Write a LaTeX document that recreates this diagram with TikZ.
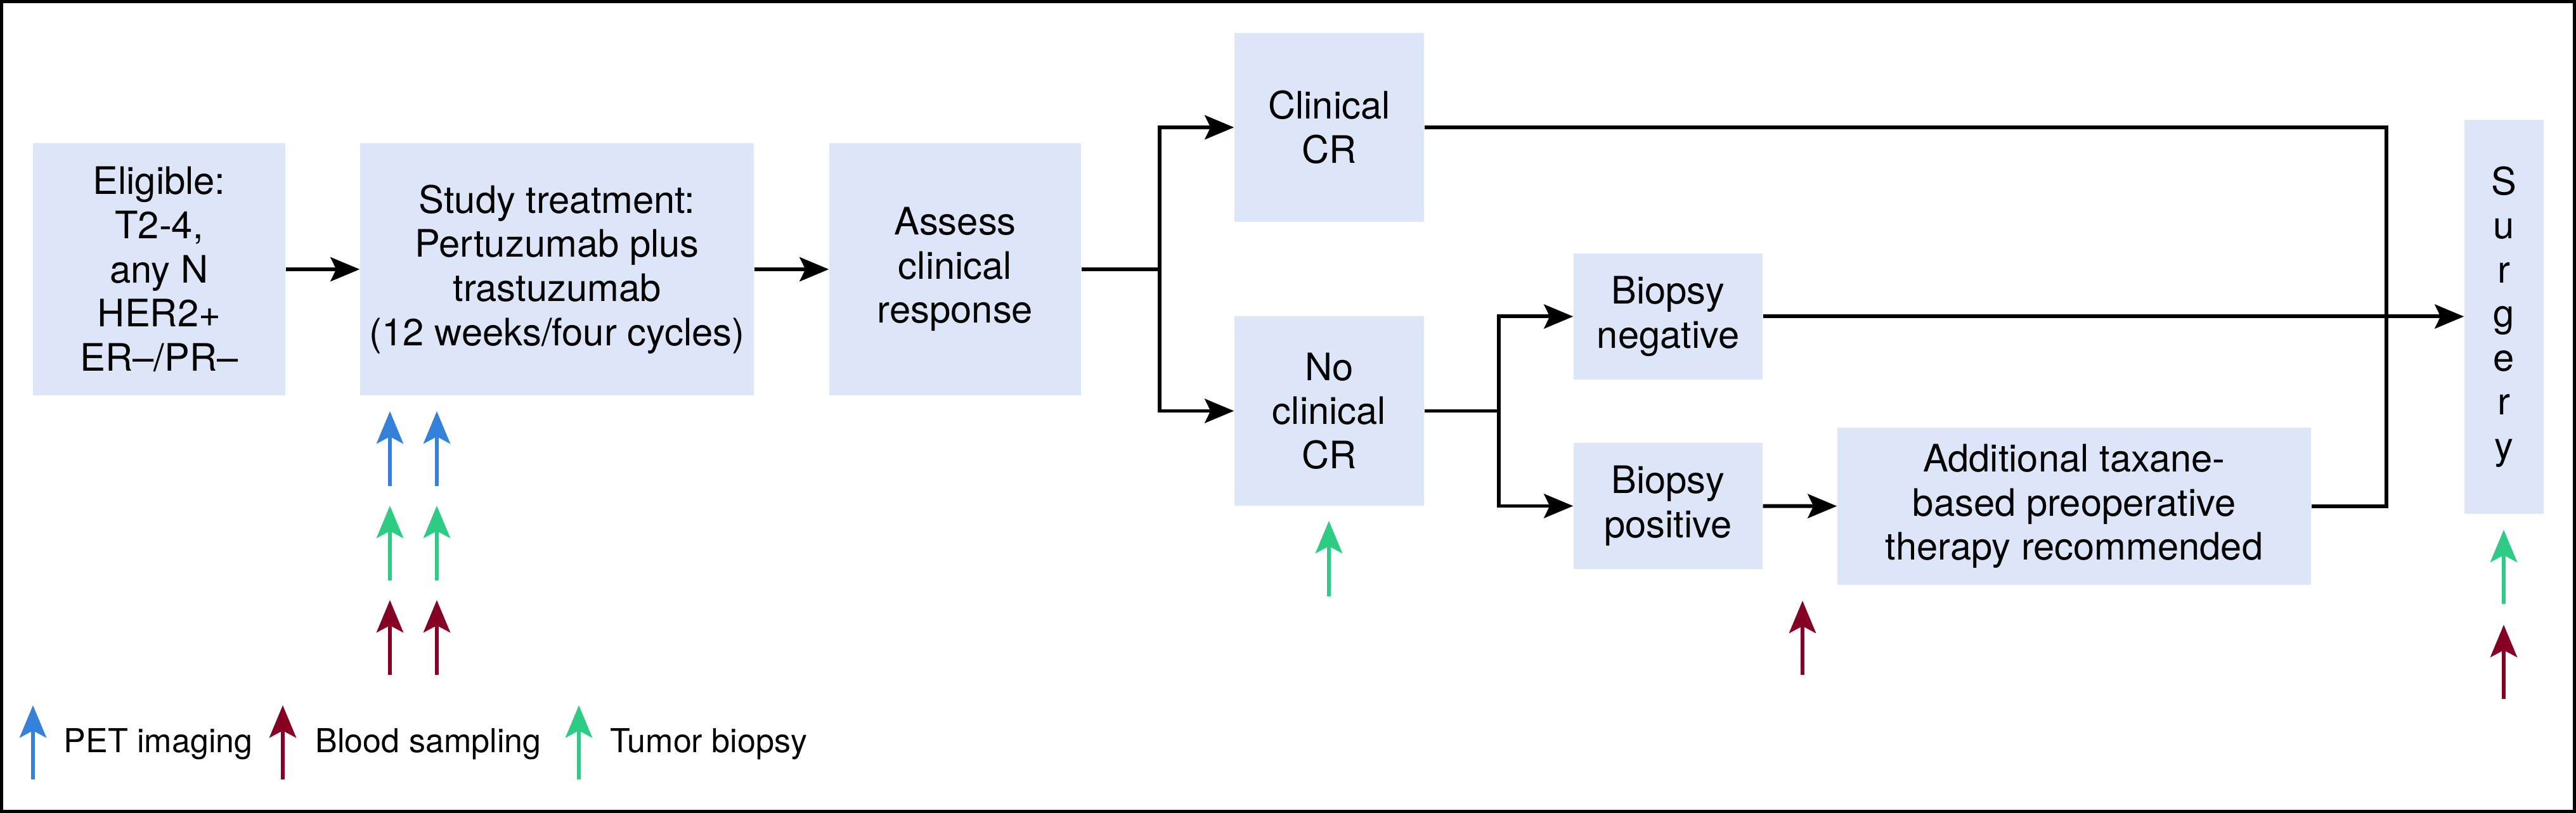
\documentclass[tikz,border=0pt]{standalone}
\usepackage{fontspec}
\setmainfont{TeX Gyre Heros}
\usetikzlibrary{arrows.meta}

\definecolor{boxfill}{HTML}{DCE6F8}
\definecolor{petblue}{HTML}{3580D8}
\definecolor{tumorgreen}{HTML}{2DCB84}
\definecolor{bloodred}{HTML}{850022}

\begin{document}
\begin{tikzpicture}[
  stage/.style={fill=boxfill, align=center, inner sep=0pt, font=\fontsize{17}{19.8}\selectfont},
  link/.style={line width=1.7pt},
  flow/.style={link, -{Stealth[length=0.46cm, width=0.38cm, inset=0.09cm]}},
  marker/.style={line width=1.8pt, -{Stealth[length=0.51cm, width=0.42cm, inset=0.11cm]}},
  legendtext/.style={anchor=base west, inner sep=0pt, font=\fontsize{14.8}{17}\selectfont}
]
  \useasboundingbox (0,0) rectangle (40.63,-12.83);
  \draw [line width=1.5pt] (0.026,-0.026) rectangle (40.604,-12.804);

  \node (elig)   at ( 2.51,-4.25) [stage, minimum width=3.98cm, minimum height=3.98cm] {Eligible:\\T2-4,\\any N\\HER2+\\ER--/PR--};
  \node (study)  at ( 8.785,-4.25) [stage, minimum width=6.21cm, minimum height=3.98cm] {Study treatment:\\Pertuzumab plus\\trastuzumab\\(12 weeks/four cycles)};
  \node (assess) at (15.065,-4.25) [stage, minimum width=3.97cm, minimum height=3.98cm] {Assess\\clinical\\response};
  \node (clincr) at (20.965,-2.01) [stage, minimum width=2.99cm, minimum height=2.98cm] {Clinical\\CR};
  \node (nocr)   at (20.965,-6.485) [stage, minimum width=2.99cm, minimum height=2.99cm] {No\\clinical\\CR};
  \node (bneg)   at (26.31,-4.995) [stage, minimum width=2.98cm, minimum height=1.99cm] {Biopsy\\negative};
  \node (bpos)   at (26.31,-7.985) [stage, minimum width=2.98cm, minimum height=1.99cm] {Biopsy\\positive};
  \node (addl)   at (32.715,-7.99) [stage, minimum width=7.47cm, minimum height=2.48cm] {Additional taxane-\\based preoperative\\therapy recommended};
  \node (surgery) at (39.495,-5.00) [stage, minimum width=1.25cm, minimum height=6.22cm] {S\\u\\r\\g\\e\\r\\y};

  \draw [flow] (elig) -- (study);
  \draw [flow] (study) -- (assess);
  \draw [flow] (assess.east) -- ++(1.23,0) coordinate (fork1) |- (clincr.west);
  \draw [flow] (fork1) |- (nocr.west);
  \draw [flow] (nocr.east) -- ++(1.17,0) coordinate (fork2) |- (bneg.west);
  \draw [flow] (fork2) |- (bpos.west);
  \draw [flow] (bneg.east) -- (bneg.east -| surgery.west);
  \draw [flow] (bpos) -- (addl);
  \draw [link] (clincr.east) -- ++(15.17,0) coordinate (join) |- (addl.east);

  \foreach \x in {6.15,6.89} {
    \draw [marker, petblue] (\x,-7.67) -- ++(0,1.18);
    \draw [marker, tumorgreen] (\x,-9.16) -- ++(0,1.18);
    \draw [marker, bloodred] (\x,-10.65) -- ++(0,1.18);
  }
  \draw [marker, tumorgreen] (20.96,-9.41) -- ++(0,1.19);
  \draw [marker, bloodred] (28.43,-10.65) -- ++(0,1.17);
  \draw [marker, tumorgreen] (39.49,-9.53) -- ++(0,1.17);
  \draw [marker, bloodred] (39.49,-11.03) -- ++(0,1.17);

  \draw [marker, petblue] (0.52,-12.30) -- ++(0,1.17);
  \node (petkey) at (1.00,-11.88) [legendtext] {PET imaging};
  \draw [marker, bloodred] (4.46,-12.30) -- ++(0,1.17);
  \node (bloodkey) at (4.97,-11.88) [legendtext] {Blood sampling};
  \draw [marker, tumorgreen] (9.13,-12.30) -- ++(0,1.17);
  \node (tumorkey) at (9.62,-11.88) [legendtext] {Tumor biopsy};
\end{tikzpicture}
\end{document}
